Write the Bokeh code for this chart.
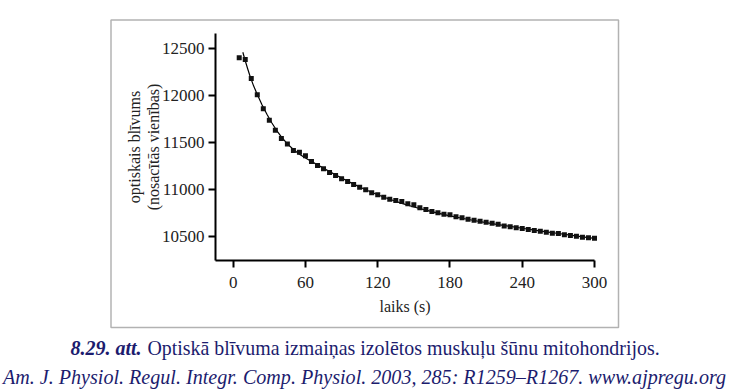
from bokeh.plotting import figure
from bokeh.models import Range1d, FixedTicker, Label, PolyAnnotation
from bokeh.embed import file_html
from bokeh.resources import INLINE

# measured points (s, optical density)
t_points = [5, 10, 15, 20, 25, 30, 35, 40, 45, 50, 55, 60, 65, 70, 75, 80, 85, 90, 95, 100,
            105, 110, 115, 120, 125, 130, 135, 140, 145, 150, 155, 160, 165, 170, 175, 180,
            185, 190, 195, 200, 205, 210, 215, 220, 225, 230, 235, 240, 245, 250, 255, 260,
            265, 270, 275, 280, 285, 290, 295, 300]
od_points = [12402, 12382, 12182, 12007, 11858, 11738, 11630, 11543, 11483, 11415, 11395, 11360,
             11298, 11255, 11220, 11181, 11149, 11114, 11085, 11053, 11025, 10997, 10965, 10944,
             10918, 10897, 10882, 10872, 10848, 10837, 10805, 10787, 10766, 10752, 10737, 10731,
             10710, 10699, 10684, 10673, 10663, 10652, 10642, 10631, 10612, 10603, 10593, 10585,
             10574, 10564, 10556, 10546, 10535, 10532, 10518, 10511, 10503, 10493, 10486, 10482]

# fitted curve
t_fit = [8, 10, 12, 14, 17, 20, 24, 28, 32, 36, 40, 45, 50, 55, 60, 70, 80, 90, 100, 110, 120,
         130, 140, 150, 160, 170, 180, 190, 200, 210, 220, 230, 240, 250, 260, 270, 280, 290, 300]
od_fit = [12460, 12370, 12285, 12205, 12100, 12010, 11900, 11800, 11710, 11630, 11560, 11485,
          11425, 11375, 11335, 11262, 11190, 11122, 11057, 10998, 10944, 10896, 10853, 10814,
          10780, 10749, 10720, 10694, 10670, 10648, 10627, 10607, 10588, 10568, 10550, 10532,
          10514, 10497, 10480]

x_ticks = [0, 60, 120, 180, 240, 300]
y_ticks = [10500, 11000, 11500, 12000, 12500]
x_axis_bounds = (-14.7, 300)
y_axis_bounds = (10245, 12660)

x_label = "laiks (s)"
y_label = "optiskais blīvums\n(nosacītās vienības)"
cap_num = "8.29. att."
cap_text = "Optiskā blīvuma izmaiņas izolētos muskuļu šūnu mitohondrijos."
cap_src = "Am. J. Physiol. Regul. Integr. Comp. Physiol. 2003, 285: R1259–R1267. www.ajpregu.org"

FONT = "Liberation Serif"
CAP_COLOR = "#1c1c6e"

W, H = 744, 392
# pixel anchors of the plotting area (layout only)
X0_PX, X300_PX = 232.7, 594.0
Y12500_PX, Y10500_PX = 48.0, 236.0
kx = (X300_PX - X0_PX) / 300.0
ky = (Y10500_PX - Y12500_PX) / 2000.0
x_range = Range1d(-X0_PX / kx, (W - X0_PX) / kx)
y_range = Range1d(10500 - (H - Y10500_PX) / ky, 12500 + Y12500_PX / ky)

p = figure(width=W, height=H, output_backend="svg", toolbar_location=None, title=None,
           x_range=x_range, y_range=y_range,
           min_border_left=0, min_border_right=0, min_border_top=0, min_border_bottom=0)
p.outline_line_color = None
p.grid.visible = False
p.background_fill_color = "white"
p.border_fill_color = "white"

for ax in (p.xaxis[0], p.yaxis[0]):
    ax.axis_line_width = 2
    ax.axis_line_color = "black"
    ax.major_tick_line_width = 2
    ax.major_tick_line_color = "black"
    ax.major_tick_out = 7
    ax.major_tick_in = 0
    ax.minor_tick_out = 0
    ax.minor_tick_in = 0
    ax.major_label_text_font = FONT
    ax.major_label_text_font_size = "17px"
    ax.major_label_text_color = "#222222"
    ax.axis_label_text_font = FONT
    ax.axis_label_text_font_size = "16px"
    ax.axis_label_text_font_style = "normal"
    ax.axis_label_text_color = "#222222"

p.xaxis.ticker = FixedTicker(ticks=x_ticks)
p.yaxis.ticker = FixedTicker(ticks=y_ticks)
p.xaxis.bounds = x_axis_bounds
p.yaxis.bounds = y_axis_bounds
p.xaxis.fixed_location = y_axis_bounds[0]
p.yaxis.fixed_location = x_axis_bounds[0]
p.xaxis.axis_label = x_label
p.yaxis.axis_label = y_label
p.xaxis.major_label_standoff = 10
p.xaxis.axis_label_standoff = 6
p.yaxis.major_label_standoff = 4
p.yaxis.axis_label_standoff = -3
p.yaxis.axis_label_text_line_height = 1.1

p.line(t_fit, od_fit, line_color="black", line_width=1.2)
p.scatter(t_points, od_points, marker="square", size=5, fill_color="#111111", line_color=None)

# outer frame box (screen px: x from left, y up from bottom)
bx0, by0, bx1, by1 = 110.5, 19.5, 618, 327
p.add_layout(PolyAnnotation(xs=[bx0, bx1, bx1, bx0], ys=[H - by0, H - by0, H - by1, H - by1],
                            xs_units="screen", ys_units="screen",
                            fill_alpha=0, line_color="black", line_width=1.5))

p.add_layout(Label(x=70, y=H - 347, x_units="screen", y_units="screen", text=cap_num,
                   text_font=FONT, text_font_size="20px", text_font_style="bold italic",
                   text_color=CAP_COLOR, text_baseline="middle", text_align="left"))
p.add_layout(Label(x=147, y=H - 347, x_units="screen", y_units="screen", text=cap_text,
                   text_font=FONT, text_font_size="19.9px", text_font_style="normal",
                   text_color=CAP_COLOR, text_baseline="middle", text_align="left"))
p.add_layout(Label(x=364, y=H - 376, x_units="screen", y_units="screen", text=cap_src,
                   text_font=FONT, text_font_size="20.1px", text_font_style="italic",
                   text_color=CAP_COLOR, text_baseline="middle", text_align="center"))

open("out.html", "w").write(file_html(p, INLINE))
